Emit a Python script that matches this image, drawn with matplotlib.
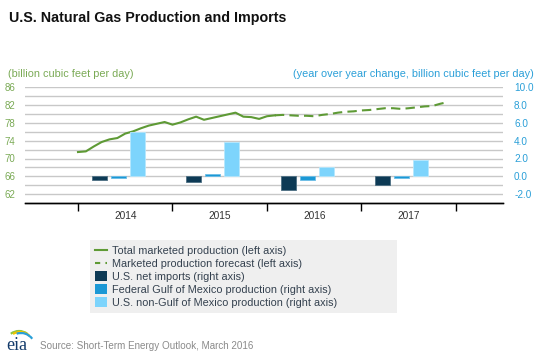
import matplotlib
matplotlib.use("Agg")
import matplotlib.pyplot as plt
import numpy as np
from matplotlib.patches import Arc, Patch
from matplotlib.lines import Line2D

plt.rcParams['font.family'] = ['Liberation Sans', 'DejaVu Sans']

# monthly marketed production, Jan 2014 .. Feb 2016 (history)
hist = [71.45, 71.6, 72.7, 73.7, 74.3, 74.6, 75.6, 76.1, 76.8, 77.4, 77.8, 78.2,
        77.6, 78.1, 78.8, 79.4, 78.7, 79.1, 79.5, 79.9, 80.3, 79.4, 79.3, 78.9,
        79.5, 79.7]
# forecast, Feb 2016 .. Dec 2017
forecast = [79.7, 79.8, 79.7, 79.6, 79.6, 79.5, 79.8, 80.0, 80.3, 80.5, 80.6,
            80.8, 80.9, 81.1, 81.3, 81.3, 81.15, 81.3, 81.5, 81.7, 81.8, 82.3, 82.7]

years = ['2014', '2015', '2016', '2017']
net_imports = [-0.37, -0.67, -1.5, -0.93]
fed_gom = [-0.22, 0.22, -0.37, -0.19]
non_gom = [4.98, 3.81, 1.0, 1.87]

green = '#5e9a35'
c_dark = '#0d3a55'
c_mid = '#1b98d5'
c_light = '#7dd4fc'

fig = plt.figure(figsize=(5.38, 3.59), dpi=100)
ax = fig.add_axes([25/538, 1 - 203/359, 478/538, 115.7/359])
ax2 = ax.twinx()

x_hist = np.arange(len(hist))
x_fc = np.arange(len(hist) - 1, len(hist) - 1 + len(forecast))
ax.plot(x_hist, hist, color=green, lw=1.5, zorder=3)
ax.plot(x_fc, forecast, color=green, lw=1.5, dashes=(4.5, 2.5), zorder=3)

ystart = np.arange(len(years)) * 12
bw = 1.9
ax2.bar(ystart + 2.7, net_imports, bw, color=c_dark, edgecolor='#4d6f83', lw=0.6)
ax2.bar(ystart + 5.1, fed_gom, bw, color=c_mid, edgecolor='#6cbde6', lw=0.6)
ax2.bar(ystart + 7.5, non_gom, bw, color=c_light, edgecolor='#b5e7fd', lw=0.6)

ax.set_xlim(-6.73, 53.97)
ax.set_ylim(60, 86)
ax2.set_ylim(-3, 10)

ax.set_yticks(np.arange(62, 87, 4))
ax.set_yticks(np.arange(62, 87, 2), minor=True)
ax.yaxis.grid(True, which='both', color='#c8c8c8', lw=1)
ax.set_axisbelow(True)
ax2.set_yticks(np.arange(-2, 10.1, 2))
ax2.set_yticklabels([f'{v:.1f}' for v in np.arange(-2, 10.1, 2)])

ax.tick_params(axis='y', which='both', length=0, pad=7, labelsize=7, labelcolor='#7aaa55')
ax2.tick_params(axis='y', length=0, pad=8, labelsize=7.2, labelcolor='#2a9fd8')

ax.set_xticks(np.arange(0, 49, 12))
ax.set_xticklabels([])
ax.set_xticks(np.arange(6, 48, 12), minor=True)
ax.set_xticklabels(years, minor=True)
ax.tick_params(axis='x', which='major', length=6, width=1, color='black', direction='out')
ax.tick_params(axis='x', which='minor', length=0, pad=6, labelsize=7.3, labelcolor='#333333')

for a in (ax, ax2):
    for s in ('top', 'left', 'right'):
        a.spines[s].set_visible(False)
    a.spines['bottom'].set_color('black')
    a.spines['bottom'].set_linewidth(1)

fig.text(9/538, 1 - 18/359, 'U.S. Natural Gas Production and Imports',
         fontsize=10.3, fontweight='bold', va='center', color='#111111')
fig.text(8/538, 1 - 74/359, '(billion cubic feet per day)', fontsize=7.8,
         color='#7aaa55', va='center')
fig.text(534/538, 1 - 74/359, '(year over year change, billion cubic feet per day)',
         fontsize=7.8, color='#2a9fd8', va='center', ha='right')

handles = [
    Line2D([], [], color=green, lw=1.5),
    Line2D([], [], color=green, lw=1.5, dashes=(2.5, 2.5)),
    Patch(facecolor=c_dark),
    Patch(facecolor=c_mid),
    Patch(facecolor=c_light),
]
labels = ['Total marketed production (left axis)',
          'Marketed production forecast (left axis)',
          'U.S. net imports (right axis)',
          'Federal Gulf of Mexico production (right axis)',
          'U.S. non-Gulf of Mexico production (right axis)']
leg = fig.legend(handles, labels, loc='upper left',
                 bbox_to_anchor=(90/538, 1 - 312/359, 307/538, 72/359),
                 mode='expand', fontsize=7.8, frameon=True, fancybox=False,
                 facecolor='#efefef', edgecolor='none', framealpha=1,
                 handlelength=1.1, handleheight=1.05, handletextpad=0.45,
                 labelspacing=0.2, borderpad=0.5, borderaxespad=0)
for t in leg.get_texts():
    t.set_color('#34414f')

# eia logo
lax = fig.add_axes([2/538, 1 - 356/359, 34/538, 30/359])
lax.set_xlim(0, 34)
lax.set_ylim(0, 30)
lax.axis('off')
lax.add_patch(Arc((17, 8), 30, 34, theta1=60, theta2=120, color='#8cc63f', lw=1.6))
lax.add_patch(Arc((18, 7), 30, 34, theta1=55, theta2=115, color='#f2c300', lw=1.6))
lax.add_patch(Arc((19, 6), 30, 34, theta1=45, theta2=105, color='#2aa0d8', lw=1.6))
lax.text(15, 10, 'eia', family=['Liberation Serif', 'DejaVu Serif'], fontsize=13,
         color='#123a6a', ha='center', va='center')

fig.text(40/538, 1 - 346/359, 'Source: Short-Term Energy Outlook, March 2016',
         fontsize=7.1, color='#8a8a8a', va='center')

fig.savefig('out.png', dpi=100)
